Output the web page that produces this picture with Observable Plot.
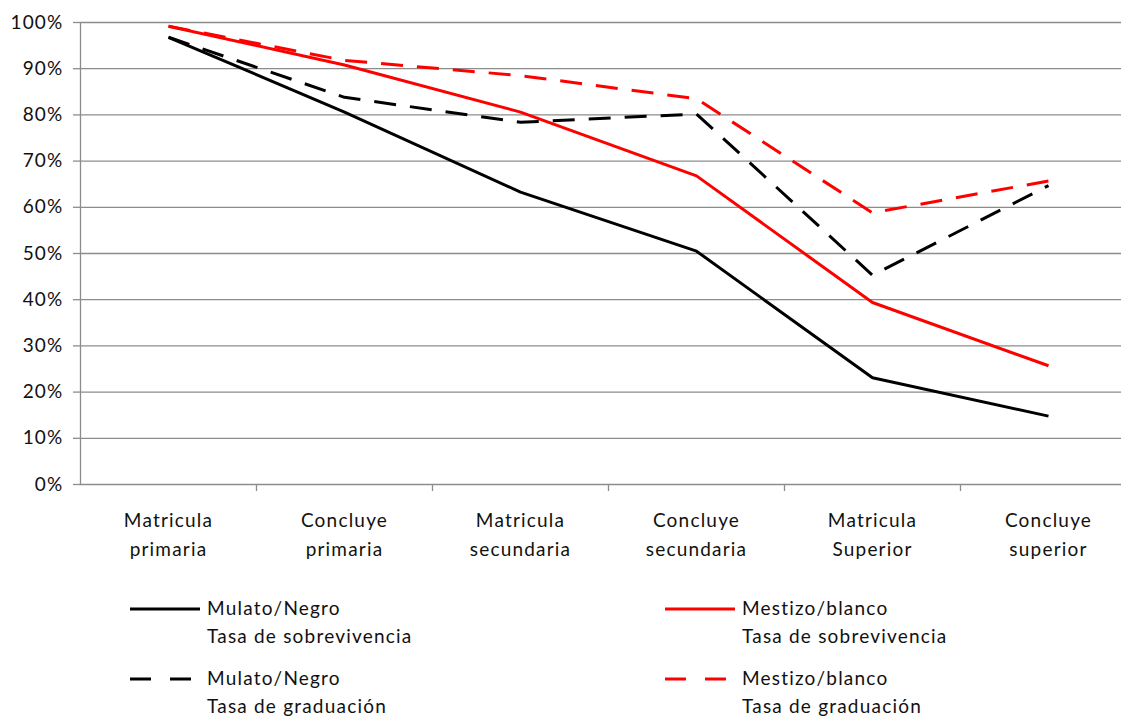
<!DOCTYPE html>
<html>
<head>
<meta charset="utf-8">
<script src="https://cdn.jsdelivr.net/npm/d3@7"></script>
<script src="https://cdn.jsdelivr.net/npm/@observablehq/plot@0.6"></script>
<style>
  html, body { margin: 0; padding: 0; background: #fff; }
  body { width: 1121px; height: 718px; position: relative; overflow: hidden; font-family: Lato, "Open Sans", sans-serif; }
  #chart { position: absolute; left: 0; top: 0; }
  .leg { position: absolute; font-size: 19px; color: #111; line-height: 28px; letter-spacing: 1.2px; white-space: nowrap; }
</style>
</head>
<body>
<div id="chart"></div>
<div id="legend"></div>
<script>
// Data
const categories = [
  "Matricula\nprimaria",
  "Concluye\nprimaria",
  "Matricula\nsecundaria",
  "Concluye\nsecundaria",
  "Matricula\nSuperior",
  "Concluye\nsuperior"
];
const mulatoSobrevivencia = [0.968, 0.806, 0.633, 0.505, 0.231, 0.148];
const mestizoSobrevivencia = [0.992, 0.908, 0.806, 0.668, 0.394, 0.257];
const mulatoGraduacion = [0.968, 0.838, 0.784, 0.802, 0.453, 0.647];
const mestizoGraduacion = [0.992, 0.918, 0.885, 0.835, 0.588, 0.657];
const yTicks = [0, 0.1, 0.2, 0.3, 0.4, 0.5, 0.6, 0.7, 0.8, 0.9, 1.0];

const seriesDefs = [
  {name: "Mulato/Negro\nTasa de sobrevivencia", values: mulatoSobrevivencia, color: "#000000", dash: null},
  {name: "Mestizo/blanco\nTasa de sobrevivencia", values: mestizoSobrevivencia, color: "#ff0000", dash: null},
  {name: "Mulato/Negro\nTasa de graduación", values: mulatoGraduacion, color: "#000000", dash: "22,14"},
  {name: "Mestizo/blanco\nTasa de graduación", values: mestizoGraduacion, color: "#ff0000", dash: "22,14"}
];

const idx = categories.map((_, i) => i);
const boundaries = d3.range(categories.length).map(i => i + 0.5);
const gray = "#8c8c8c";
const font = "Lato, 'Open Sans', sans-serif";

const lineMarks = seriesDefs.map(s => Plot.line(
  idx.map(i => ({i, v: s.values[i]})),
  {x: "i", y: "v", stroke: s.color, strokeWidth: 3, strokeDasharray: s.dash, strokeLinejoin: "miter", strokeLinecap: "butt"}
));

const chart = Plot.plot({
  width: 1121,
  height: 580,
  marginLeft: 80,
  marginRight: 0,
  marginTop: 22,
  marginBottom: 96,
  style: {fontFamily: font, fontSize: "19px", color: "#111", background: "#fff", letterSpacing: "1.2px"},
  x: {type: "linear", domain: [-0.5, categories.length - 0.5], range: [80, 1136]},
  y: {domain: [0, 1]},
  marks: [
    Plot.ruleY(yTicks.slice(1), {stroke: gray, strokeWidth: 1.3, strokeOpacity: 1}),
    Plot.ruleY([0], {stroke: gray, strokeWidth: 1.3}),
    Plot.ruleX([-0.5], {y1: 0, y2: 1, stroke: gray, strokeWidth: 1.3}),
    Plot.axisY({ticks: yTicks, tickFormat: d3.format(".0%"), tickSize: 7, tickPadding: 10, stroke: gray, strokeWidth: 1.3, label: null, fontSize: 19, fill: "#111"}),
    Plot.axisX({ticks: boundaries, tickSize: 7, tickFormat: () => "", stroke: gray, strokeWidth: 1.3, label: null}),
    Plot.text(idx, {x: d => d, y: () => 0, text: d => categories[d], dy: 22, lineAnchor: "top", lineHeight: 1.52, fontSize: 19, fill: "#111"}),
    ...lineMarks
  ]
});
document.getElementById("chart").appendChild(chart);

// Legend
const legendPos = [
  {left: 130, top: 595},
  {left: 665, top: 595},
  {left: 130, top: 665},
  {left: 665, top: 665}
];
const legend = document.getElementById("legend");
seriesDefs.forEach((s, k) => {
  const p = legendPos[k];
  const svgNS = "http://www.w3.org/2000/svg";
  const svg = document.createElementNS(svgNS, "svg");
  svg.setAttribute("width", 72); svg.setAttribute("height", 10);
  svg.style.position = "absolute";
  svg.style.left = p.left + "px";
  svg.style.top = (p.top + 9) + "px";
  const ln = document.createElementNS(svgNS, "line");
  ln.setAttribute("x1", 0); ln.setAttribute("x2", 70);
  ln.setAttribute("y1", 5); ln.setAttribute("y2", 5);
  ln.setAttribute("stroke", s.color); ln.setAttribute("stroke-width", 3);
  if (s.dash) ln.setAttribute("stroke-dasharray", "21,19");
  svg.appendChild(ln);
  legend.appendChild(svg);
  const div = document.createElement("div");
  div.className = "leg";
  div.style.left = (p.left + 77) + "px";
  div.style.top = (p.top - 1) + "px";
  div.innerHTML = s.name.split("\n").join("<br>");
  legend.appendChild(div);
});
</script>
</body>
</html>
